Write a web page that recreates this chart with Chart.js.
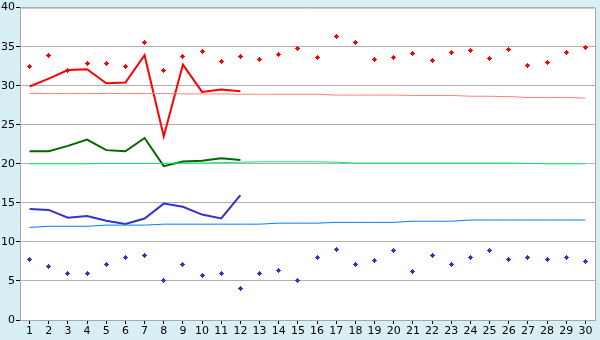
<!DOCTYPE html>
<html>
<head>
<meta charset="utf-8">
<script src="https://cdn.jsdelivr.net/npm/chart.js@4/dist/chart.umd.min.js"></script>
<style>
  html, body { margin: 0; padding: 0; background: #d9eff6; }
  #wrap { width: 600px; height: 340px; }
</style>
</head>
<body>
<div id="wrap"><canvas id="chart" width="600" height="340"></canvas></div>
<script>
const days = ['1','2','3','4','5','6','7','8','9','10','11','12','13','14','15','16','17','18','19','20','21','22','23','24','25','26','27','28','29','30'];

const redLine = [29.9, 30.9, 32.0, 32.1, 30.3, 30.4, 33.9, 23.5, 32.7, 29.2, 29.5, 29.3];
const greenLine = [21.6, 21.6, 22.3, 23.1, 21.75, 21.6, 23.3, 19.7, 20.3, 20.4, 20.7, 20.5];
const blueLine = [14.2, 14.1, 13.1, 13.3, 12.7, 12.3, 13.0, 14.9, 14.5, 13.5, 13.0, 16.0];

const redDots = [32.5, 33.9, 32.0, 32.9, 32.9, 32.5, 35.5, 32.0, 33.7, 34.4, 33.1, 33.7, 33.4, 34.0, 34.8,
  33.6, 36.3, 35.5, 33.4, 33.6, 34.1, 33.2, 34.2, 34.5, 33.5, 34.6, 32.6, 33.0, 34.2, 34.9];
const blueDots = [7.8, 6.8, 6.0, 6.0, 7.1, 8.0, 8.2, 5.0, 7.1, 5.7, 6.0, 4.0, 6.0, 6.4, 5.0,
  8.0, 9.0, 7.1, 7.6, 8.9, 6.2, 8.2, 7.1, 8.0, 8.9, 7.8, 8.0, 7.8, 8.0, 7.5];

const redTrend = [29.0, 29.0, 29.0, 29.0, 29.0, 29.0, 29.0, 29.0, 28.95, 28.95, 28.95, 28.9, 28.9, 28.9, 28.9,
  28.9, 28.8, 28.8, 28.8, 28.8, 28.75, 28.75, 28.75, 28.65, 28.65, 28.6, 28.5, 28.5, 28.5, 28.4];
const greenTrend = [20.0, 20.0, 20.0, 20.0, 20.05, 20.05, 20.05, 20.05, 20.1, 20.1, 20.15, 20.2, 20.25, 20.25, 20.25,
  20.25, 20.2, 20.1, 20.1, 20.1, 20.1, 20.1, 20.1, 20.1, 20.1, 20.1, 20.05, 20.0, 20.0, 20.0];
const blueTrend = [11.85, 12.0, 12.0, 12.0, 12.15, 12.15, 12.15, 12.27, 12.27, 12.27, 12.27, 12.27, 12.27, 12.4, 12.4,
  12.4, 12.5, 12.5, 12.5, 12.5, 12.65, 12.65, 12.65, 12.8, 12.8, 12.8, 12.8, 12.8, 12.8, 12.8];

const yTicks = [0, 5, 10, 15, 20, 25, 30, 35, 40];

// small pixel "plus" marker like the old chart control draws
function marker(color) {
  const c = document.createElement('canvas');
  c.width = 5;
  c.height = 5;
  const g = c.getContext('2d');
  g.fillStyle = color;
  g.fillRect(1, 1, 3, 3);
  g.fillRect(0, 2, 5, 1);
  g.fillRect(2, 0, 1, 5);
  return c;
}

const plotFrame = {
  id: 'plotFrame',
  beforeDraw(chart) {
    const a = chart.chartArea;
    const ctx = chart.ctx;
    ctx.save();
    ctx.fillStyle = '#ffffff';
    ctx.fillRect(a.left, a.top, a.right - a.left, a.bottom - a.top);
    ctx.restore();
  },
  beforeDatasetsDraw(chart) {
    chart.ctx.imageSmoothingEnabled = false;
  },
  afterDraw(chart) {
    const a = chart.chartArea;
    const ctx = chart.ctx;
    ctx.save();
    ctx.strokeStyle = '#a8a8a8';
    ctx.lineWidth = 1;
    ctx.beginPath();
    ctx.moveTo(a.left, a.top + 0.5);
    ctx.lineTo(a.right + 0.5, a.top + 0.5);
    ctx.lineTo(a.right + 0.5, a.bottom);
    ctx.stroke();
    ctx.restore();
  }
};

function lineSet(data, color, width) {
  return { type: 'line', data, borderColor: color, backgroundColor: color, borderWidth: width,
    pointRadius: 0, tension: 0, fill: false };
}
function dotSet(data, color) {
  return { type: 'line', data, showLine: false, borderColor: color, backgroundColor: color,
    pointStyle: marker(color), pointRadius: 3 };
}

new Chart(document.getElementById('chart'), {
  type: 'line',
  data: {
    labels: days,
    datasets: [
      lineSet(redTrend, '#ff8080', 1),
      lineSet(greenTrend, '#00ee77', 1),
      lineSet(blueTrend, '#0a7aff', 1),
      lineSet(redLine, '#ff0000', 2),
      lineSet(greenLine, '#006600', 2),
      lineSet(blueLine, '#3333cc', 2),
      dotSet(redDots, '#ff0000'),
      dotSet(blueDots, '#3333cc')
    ]
  },
  options: {
    responsive: false,
    animation: false,
    layout: { padding: { top: 5, right: 5, left: 0, bottom: 0 } },
    plugins: { legend: { display: false }, tooltip: { enabled: false } },
    scales: {
      x: {
        offset: true,
        grid: { display: true, drawOnChartArea: false, offset: false, tickLength: 4, tickColor: '#000000' },
        border: { color: '#a8a8a8' },
        ticks: { color: '#000000', font: { family: 'DejaVu Sans', size: 11 }, padding: 1, maxRotation: 0, autoSkip: false },
        afterFit(s) { s.height = 20; }
      },
      y: {
        min: 0, max: 40,
        afterBuildTicks(s) { s.ticks = yTicks.map(v => ({ value: v })); },
        grid: { color: '#b0b0b0', tickLength: 4, tickColor: '#000000' },
        border: { color: '#a8a8a8' },
        ticks: { color: '#000000', font: { family: 'DejaVu Sans', size: 11 }, padding: 1 },
        afterFit(s) { s.width = 20; }
      }
    }
  },
  plugins: [plotFrame]
});
</script>
</body>
</html>
